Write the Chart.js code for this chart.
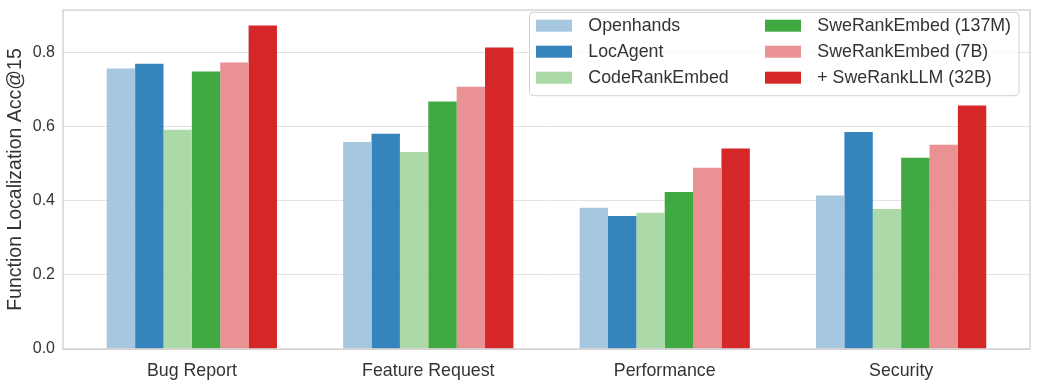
<!DOCTYPE html>
<html>
<head>
<meta charset="utf-8">
<script src="https://cdn.jsdelivr.net/npm/chart.js@4/dist/chart.umd.min.js"></script>
<style>
html,body{margin:0;padding:0;background:#fff;}
#wrap{width:1040px;height:390px;}
</style>
</head>
<body>
<div id="wrap"><canvas id="c" width="1040" height="390"></canvas></div>
<script>
const categories = ["Bug Report", "Feature Request", "Performance", "Security"];
const seriesNames = ["Openhands", "LocAgent", "CodeRankEmbed", "SweRankEmbed (137M)", "SweRankEmbed (7B)", "+ SweRankLLM (32B)"];
const openhands = [0.757, 0.559, 0.381, 0.414];
const locAgent = [0.770, 0.581, 0.359, 0.586];
const codeRankEmbed = [0.592, 0.532, 0.368, 0.378];
const sweRankEmbed137M = [0.749, 0.668, 0.424, 0.516];
const sweRankEmbed7B = [0.773, 0.708, 0.489, 0.551];
const sweRankLLM32B = [0.873, 0.814, 0.541, 0.657];
const yTicks = [0.0, 0.2, 0.4, 0.6, 0.8];
const yLabel = "Function Localization Acc@15";

const seriesValues = [openhands, locAgent, codeRankEmbed, sweRankEmbed137M, sweRankEmbed7B, sweRankLLM32B];
const colors = [
  "rgba(156,193,221,0.9)",
  "rgba(31,119,180,0.9)",
  "rgba(162,214,158,0.9)",
  "rgba(44,160,44,0.9)",
  "rgba(231,133,135,0.9)",
  "rgba(214,39,40,1)"
];
const textColor = "#333333";
const FONT = "'Liberation Sans', Arial, sans-serif";

const datasets = seriesNames.map((name, k) => ({
  label: name,
  data: seriesValues[k].map((v, i) => ({x: i, y: v})),
  backgroundColor: colors[k],
  borderWidth: 0,
  categoryPercentage: 0.72,
  barPercentage: 1.0
}));

const framePlugin = {
  id: 'frame',
  afterDatasetsDraw(chart) {
    const {ctx, chartArea: a} = chart;
    ctx.save();
    ctx.strokeStyle = "#cccccc";
    ctx.lineWidth = 1.25;
    ctx.strokeRect(a.left, a.top, a.right - a.left, a.bottom - a.top);
    ctx.restore();
  }
};

const legendPlugin = {
  id: 'customLegend',
  afterDraw(chart) {
    const {ctx, chartArea: a} = chart;
    const bx = a.left + 466.5, by = a.top + 2.3, bw = 489.5, bh = 83.4, r = 4;
    ctx.save();
    ctx.beginPath();
    ctx.moveTo(bx + r, by);
    ctx.lineTo(bx + bw - r, by);
    ctx.arcTo(bx + bw, by, bx + bw, by + r, r);
    ctx.lineTo(bx + bw, by + bh - r);
    ctx.arcTo(bx + bw, by + bh, bx + bw - r, by + bh, r);
    ctx.lineTo(bx + r, by + bh);
    ctx.arcTo(bx, by + bh, bx, by + bh - r, r);
    ctx.lineTo(bx, by + r);
    ctx.arcTo(bx, by, bx + r, by, r);
    ctx.closePath();
    ctx.fillStyle = "rgba(255,255,255,0.8)";
    ctx.fill();
    ctx.strokeStyle = "#d0d0d0";
    ctx.lineWidth = 1;
    ctx.stroke();
    ctx.font = "17.8px " + FONT;
    ctx.textBaseline = "middle";
    ctx.fillStyle = textColor;
    chart.data.datasets.forEach((ds, k) => {
      const col = Math.floor(k / 3), row = k % 3;
      const sx = bx + 6.5 + col * 229;
      const cy = by + 13.4 + row * 26;
      ctx.fillStyle = ds.backgroundColor;
      ctx.fillRect(sx, cy - 6, 36, 12);
      ctx.fillStyle = textColor;
      ctx.fillText(ds.label, sx + 52.3, cy + 0.5);
    });
    ctx.restore();
  }
};

new Chart(document.getElementById('c'), {
  type: 'bar',
  data: { datasets },
  options: {
    responsive: false,
    animation: false,
    layout: { padding: { top: 10, right: 10, left: 0, bottom: 0 } },
    plugins: { legend: { display: false }, tooltip: { enabled: false } },
    scales: {
      x: {
        type: 'linear',
        min: -0.545,
        max: 3.545,
        offset: false,
        grid: { display: false, drawTicks: false },
        border: { display: false },
        afterBuildTicks(scale) { scale.ticks = categories.map((c, i) => ({ value: i })); },
        afterFit(scale) { scale.height = 41; scale.paddingLeft = 0; scale.paddingRight = 0; },
        ticks: {
          autoSkip: false,
          maxRotation: 0,
          padding: 11,
          color: textColor,
          font: { family: FONT, size: 17.8 },
          callback: (v) => categories[v]
        }
      },
      y: {
        min: 0,
        max: 0.915,
        afterBuildTicks(scale) { scale.ticks = yTicks.map(v => ({ value: v })); },
        afterFit(scale) { scale.width = 63; scale.paddingTop = 0; scale.paddingBottom = 0; },
        grid: { color: "#e2e2e2", lineWidth: 1, drawTicks: false },
        border: { display: false },
        ticks: {
          padding: 8,
          color: textColor,
          font: { family: FONT, size: 16 },
          callback: (v) => Number(v).toFixed(1)
        },
        title: {
          display: true,
          text: yLabel,
          color: textColor,
          font: { family: FONT, size: 19.5 },
          padding: { top: 4, bottom: 4 }
        }
      }
    }
  },
  plugins: [framePlugin, legendPlugin]
});
</script>
</body>
</html>
